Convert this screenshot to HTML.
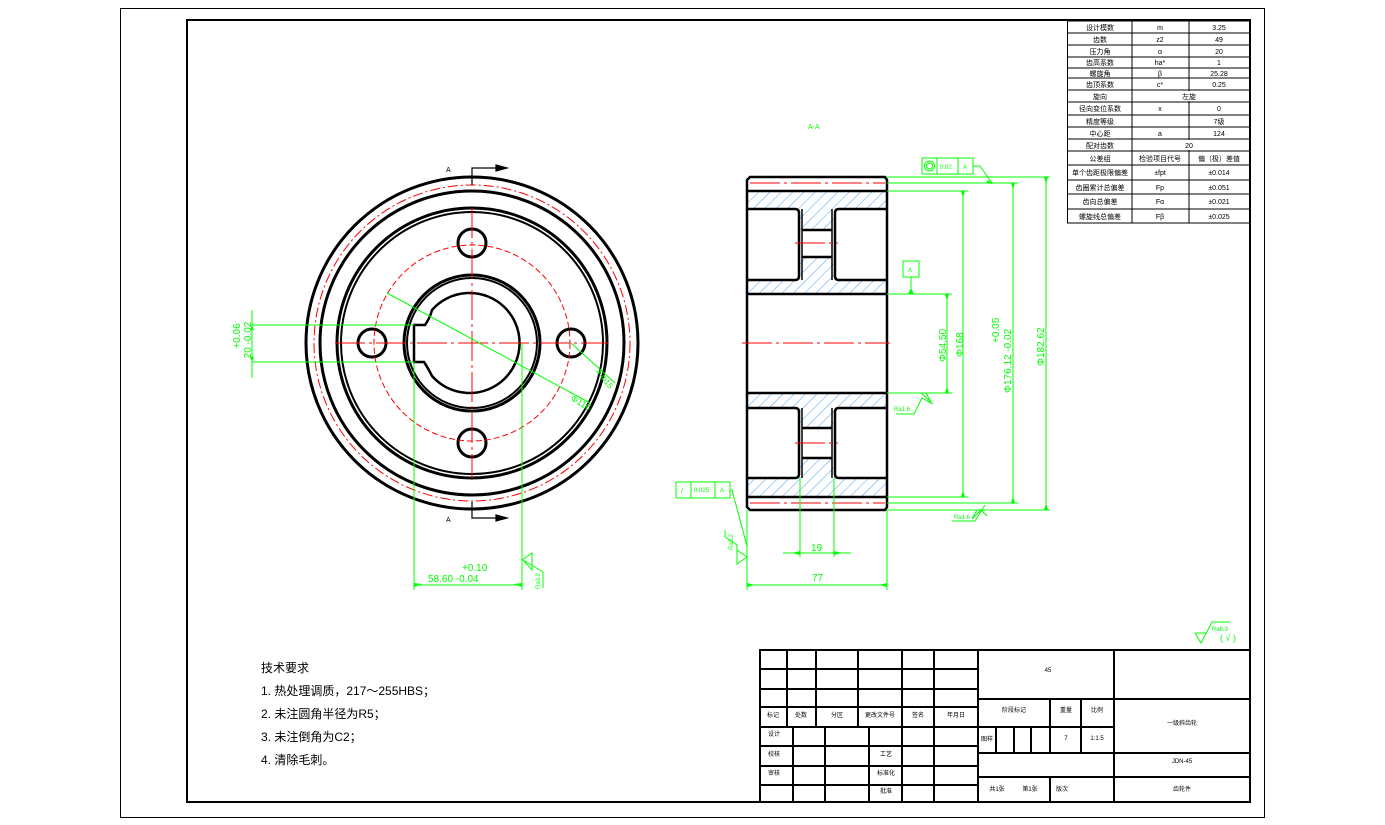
<!DOCTYPE html>
<html><head><meta charset="utf-8"><style>
html,body{margin:0;padding:0;background:#fff;}
svg{display:block;}
text{font-family:"Liberation Sans","Noto Sans CJK SC",sans-serif;}
</style></head><body>
<svg width="1385" height="825" viewBox="0 0 1385 825" xmlns="http://www.w3.org/2000/svg">
<defs>
<pattern id="h" width="8" height="8" patternUnits="userSpaceOnUse" patternTransform="rotate(45)">
<line x1="0" y1="0" x2="0" y2="8" stroke="#1a8cff" stroke-width="0.8"/>
</pattern>
</defs>
<rect x="120.5" y="8.5" width="1144" height="809" fill="none" stroke="#000" stroke-width="1"/>
<rect x="187" y="20" width="1063" height="782" fill="none" stroke="#000" stroke-width="2"/>

<!-- LEFT VIEW -->
<g fill="none" stroke="#000" stroke-width="3">
<circle cx="472" cy="343" r="166"/>
<circle cx="472" cy="343" r="152"/>
<circle cx="472" cy="343" r="135"/>
<circle cx="472" cy="343" r="131" stroke-width="2"/>
<circle cx="472" cy="343" r="68"/>
<circle cx="472" cy="343" r="65" stroke-width="2"/>
<path d="M 414 325 L 425 325 Q 430 318 432 310 A 50 50 0 1 1 432 376 Q 428 368 424 362 L 414 362 Z" stroke-width="2.5"/>
<circle cx="472" cy="243" r="14"/>
<circle cx="472" cy="443" r="14"/>
<circle cx="372" cy="343" r="14"/>
<circle cx="571" cy="343" r="14"/>
</g>
<g fill="none" stroke="#f00" stroke-width="1">
<circle cx="472" cy="343" r="158" stroke-dasharray="10 3 2 3"/>
<circle cx="472" cy="343" r="98" stroke-dasharray="6 3"/>
<line x1="335" y1="343" x2="608" y2="343" stroke-dasharray="30 4 3 4"/>
<line x1="472" y1="208" x2="472" y2="478" stroke-dasharray="30 4 3 4"/>
</g>
<g stroke="#000" stroke-width="1.2" fill="#000">
<polyline points="472,185 472,168 500,168" fill="none"/>
<polygon points="496,165 507,168 496,171"/>
<polyline points="472,502 472,518 500,518" fill="none"/>
<polygon points="496,515 507,518 496,521"/>
</g>
<text x="446" y="172" font-size="7">A</text>
<text x="446" y="522" font-size="7">A</text>

<g stroke="#0f0" stroke-width="1" fill="none">
<line x1="252" y1="310" x2="252" y2="378"/>
<line x1="252" y1="325" x2="414" y2="325"/>
<line x1="252" y1="362" x2="414" y2="362"/>
<line x1="414" y1="362" x2="414" y2="590"/>
<line x1="522" y1="343" x2="522" y2="590"/>
<line x1="414" y1="585" x2="522" y2="585"/>
<line x1="387" y1="293" x2="590" y2="403"/>
<line x1="571" y1="343" x2="615" y2="383"/>
<polyline points="522,560 532,553 532,570 523,560 543,572 543,588"/>
</g>
<g fill="#0f0">
<polygon points="250,330 254,330 252,325"/>
<polygon points="250,357 254,357 252,362"/>
<polygon points="414,583 422,584 414,587"/>
<polygon points="522,583 514,584 522,587"/>
</g>
<g fill="#0f0" font-size="10">
<text x="428" y="582">58.60 -0.04</text>
<text x="462" y="571">+0.10</text>
<text transform="translate(240,336) rotate(-90)" text-anchor="middle">+0.06</text>
<text transform="translate(251,340) rotate(-90)" text-anchor="middle">20 -0.02</text>
<text transform="translate(570,400) rotate(30)" font-size="9">Φ116</text>
<text transform="translate(595,372) rotate(50)" font-size="8">4-Φ15</text>
<text transform="translate(540,589) rotate(-90)" font-size="6">Ra3.2</text>
</g>

<!-- RIGHT SECTION VIEW -->
<g fill="url(#h)" stroke="none">
<rect x="748" y="191" width="139" height="18"/>
<rect x="798" y="209" width="38" height="21"/>
<rect x="798" y="257" width="38" height="23"/>
<rect x="748" y="280" width="139" height="14"/>
<rect x="748" y="393" width="139" height="15"/>
<rect x="798" y="408" width="38" height="20"/>
<rect x="798" y="458" width="38" height="20"/>
<rect x="748" y="478" width="139" height="19"/>
</g>
<g fill="none" stroke="#000" stroke-width="2.5">
<path d="M 750 177 L 885 177 L 887 180 L 887 507 L 885 510 L 750 510 L 747 507 L 747 180 Z"/>
<line x1="747" y1="191" x2="887" y2="191"/>
<line x1="747" y1="497" x2="887" y2="497"/>
<line x1="747" y1="294" x2="887" y2="294"/>
<line x1="747" y1="393" x2="887" y2="393"/>
<path d="M 747 209 L 795 209 Q 799 209 799 213 L 799 276 Q 799 280 795 280 L 747 280"/>
<path d="M 887 209 L 839 209 Q 835 209 835 213 L 835 276 Q 835 280 839 280 L 887 280"/>
<path d="M 747 408 L 795 408 Q 799 408 799 412 L 799 474 Q 799 478 795 478 L 747 478"/>
<path d="M 887 408 L 839 408 Q 835 408 835 412 L 835 474 Q 835 478 839 478 L 887 478"/>
<line x1="802" y1="209" x2="802" y2="280" stroke-width="1.5"/>
<line x1="832" y1="209" x2="832" y2="280" stroke-width="1.5"/>
<line x1="802" y1="408" x2="802" y2="478" stroke-width="1.5"/>
<line x1="832" y1="408" x2="832" y2="478" stroke-width="1.5"/>
<line x1="802" y1="230" x2="832" y2="230"/>
<line x1="802" y1="257" x2="832" y2="257"/>
<line x1="802" y1="428" x2="832" y2="428"/>
<line x1="802" y1="458" x2="832" y2="458"/>
</g>
<g stroke="#f00" stroke-width="1" stroke-dasharray="30 4 3 4">
<line x1="750" y1="183" x2="885" y2="183"/>
<line x1="750" y1="503" x2="885" y2="503"/>
<line x1="742" y1="343" x2="890" y2="343"/>
<line x1="795" y1="243" x2="838" y2="243"/>
<line x1="795" y1="443" x2="838" y2="443"/>
</g>
<text x="808" y="129" font-size="7" fill="#0f0">A-A</text>

<g stroke="#0f0" stroke-width="1" fill="none">
<line x1="887" y1="177" x2="1050" y2="177"/>
<line x1="887" y1="510" x2="1050" y2="510"/>
<line x1="887" y1="183" x2="1018" y2="183"/>
<line x1="887" y1="503" x2="1018" y2="503"/>
<line x1="887" y1="191" x2="968" y2="191"/>
<line x1="887" y1="497" x2="968" y2="497"/>
<line x1="887" y1="294" x2="952" y2="294"/>
<line x1="887" y1="393" x2="952" y2="393"/>
<line x1="1046" y1="177" x2="1046" y2="510"/>
<line x1="1013" y1="183" x2="1013" y2="503"/>
<line x1="963" y1="191" x2="963" y2="497"/>
<line x1="947" y1="294" x2="947" y2="393"/>
<rect x="903" y="261" width="16" height="16"/>
<line x1="911" y1="277" x2="911" y2="294"/>
<rect x="922" y="158" width="51" height="16"/>
<line x1="937" y1="158" x2="937" y2="174"/>
<line x1="958" y1="158" x2="958" y2="174"/>
<circle cx="929.5" cy="166" r="5"/><circle cx="929.5" cy="166" r="3"/>
<polyline points="973,166 980,166 992,183"/>
<rect x="676" y="482" width="54" height="16"/>
<line x1="691" y1="482" x2="691" y2="498"/>
<line x1="715" y1="482" x2="715" y2="498"/>
<polyline points="730,490 732,490 747,546"/>
<line x1="747" y1="510" x2="747" y2="590"/>
<line x1="887" y1="510" x2="887" y2="590"/>
<line x1="747" y1="585" x2="887" y2="585"/>
<line x1="800" y1="478" x2="800" y2="557"/>
<line x1="834" y1="478" x2="834" y2="557"/>
<line x1="783" y1="553" x2="851" y2="553"/>
<polyline points="937,393 926,393 931,402 921,393"/>
<polyline points="896,414 914,414 922,398 933,404"/>
<polyline points="977,510 972,519 981,510 987,516"/>
<polyline points="952,521 975,521 985,505"/>
<polyline points="747,557 737,564 737,545 725,537 725,530"/>
<polyline points="747,557 737,550"/>
</g>
<g fill="#0f0">
<polygon points="1044,177 1048,177 1046,184"/><polygon points="1044,510 1048,510 1046,503"/>
<polygon points="1011,183 1015,183 1013,190"/><polygon points="1011,503 1015,503 1013,496"/>
<polygon points="961,191 965,191 963,198"/><polygon points="961,497 965,497 963,490"/>
<polygon points="945,294 949,294 947,301"/><polygon points="945,393 949,393 947,386"/>
<polygon points="908,294 914,294 911,288"/>
<polygon points="747,583 755,585 747,587"/><polygon points="887,583 879,585 887,587"/>
<polygon points="800,551 792,553 800,555"/><polygon points="834,551 842,553 834,555"/>
<polygon points="988,180 993,184 986,183"/>
</g>
<g fill="#0f0" font-size="10">
<text x="812" y="581">77</text>
<text x="811" y="551">19</text>
<text transform="translate(946,362) rotate(-90)">Φ54.50</text>
<text transform="translate(963,357) rotate(-90)">Φ168</text>
<text transform="translate(1011,393) rotate(-90)">Φ176.12 -0.02</text>
<text transform="translate(999,343) rotate(-90)">+0.05</text>
<text transform="translate(1044,366) rotate(-90)">Φ182.62</text>
<text x="908" y="272" font-size="6">A</text>
<text x="940" y="169" font-size="6">0.02</text>
<text x="963" y="169" font-size="6">A</text>
<text x="681" y="493" font-size="7">/</text>
<text x="694" y="492" font-size="6">0.025</text>
<text x="720" y="492" font-size="6">A</text>
<text x="894" y="411" font-size="6">Ra1.6</text>
<text x="954" y="519" font-size="6">Ra1.6</text>
<text transform="translate(733,550) rotate(-90)" font-size="6">Ra3.2</text>
</g>

<!-- TABLE -->
<g stroke="#000" stroke-width="1" fill="none">
<rect x="1067.5" y="21" width="182" height="202"/>
<line x1="1132" y1="21" x2="1132" y2="223"/>
<line x1="1189" y1="21" x2="1189" y2="223"/>
<path d="M1067 33H1250M1067 45H1250M1067 57H1250M1067 68H1250M1067 78H1250M1067 90H1250M1067 102H1250M1067 115H1250M1067 127H1250M1067 139H1250M1067 151H1250M1067 165H1250M1067 180H1250M1067 194H1250M1067 209H1250"/>
</g>
<rect x="1133" y="91" width="112" height="10" fill="#fff"/>
<rect x="1133" y="140" width="112" height="10" fill="#fff"/>
<g font-size="7" text-anchor="middle" fill="#000">
<text x="1100" y="30">设计模数</text><text x="1160" y="30">m</text><text x="1219" y="30">3.25</text>
<text x="1100" y="42">齿数</text><text x="1160" y="42">z2</text><text x="1219" y="42">49</text>
<text x="1100" y="54">压力角</text><text x="1160" y="54">α</text><text x="1219" y="54">20</text>
<text x="1100" y="65">齿高系数</text><text x="1160" y="65">ha*</text><text x="1219" y="65">1</text>
<text x="1100" y="76">螺旋角</text><text x="1160" y="76">β</text><text x="1219" y="76">25.28</text>
<text x="1100" y="87">齿顶系数</text><text x="1160" y="87">c*</text><text x="1219" y="87">0.25</text>
<text x="1100" y="99">旋向</text><text x="1189" y="99">左旋</text>
<text x="1100" y="111">径向变位系数</text><text x="1160" y="111">x</text><text x="1219" y="111">0</text>
<text x="1100" y="124">精度等级</text><text x="1219" y="124">7级</text>
<text x="1100" y="136">中心距</text><text x="1160" y="136">a</text><text x="1219" y="136">124</text>
<text x="1100" y="148">配对齿数</text><text x="1189" y="148">20</text>
<text x="1100" y="161">公差组</text><text x="1160" y="161">检验项目代号</text><text x="1219" y="161">偏（极）差值</text>
<text x="1100" y="175">单个齿距极限偏差</text><text x="1160" y="175">±fpt</text><text x="1219" y="175">±0.014</text>
<text x="1100" y="190">齿圈累计总偏差</text><text x="1160" y="190">Fp</text><text x="1219" y="190">±0.051</text>
<text x="1100" y="204">齿向总偏差</text><text x="1160" y="204">Fα</text><text x="1219" y="204">±0.021</text>
<text x="1100" y="219">螺旋线总偏差</text><text x="1160" y="219">Fβ</text><text x="1219" y="219">±0.025</text>
</g>

<g stroke="#0f0" fill="none" stroke-width="1">
<polyline points="1195,633 1201,643 1212,622 1230,622"/>
<line x1="1195" y1="633" x2="1207" y2="633"/>
</g>
<text x="1212" y="631" font-size="6" fill="#0f0">Ra6.3</text>
<text x="1220" y="641" font-size="9" fill="#0f0">( √ )</text>

<g font-size="12" fill="#000">
<text x="261" y="672">技术要求</text>
<text x="261" y="695">1. 热处理调质，217～255HBS；</text>
<text x="261" y="718">2. 未注圆角半径为R5；</text>
<text x="261" y="741">3. 未注倒角为C2；</text>
<text x="261" y="764">4. 清除毛刺。</text>
</g>

<g stroke="#000" stroke-width="2" fill="none">
<rect x="760" y="650" width="490" height="152"/>
<line x1="978" y1="650" x2="978" y2="802"/>
<line x1="1114" y1="650" x2="1114" y2="802"/>
<path d="M760 669H978M760 689H978M760 707H978M760 727H978M760 746H978M760 766H978M760 785H978"/>
<path d="M787 650V727M816 650V727M858 650V727M902 650V802M934 650V802"/>
<path d="M793 727V802M825 727V802M869 727V802"/>
<path d="M978 699H1250M978 727H1114M978 753H1250M978 777H1250"/>
<path d="M1050 699V753M1081 699V753M996 727V753M1014 727V753M1031 727V753M1050 777V802"/>
</g>
<g font-size="6" fill="#000" text-anchor="middle">
<text x="773" y="717">标记</text><text x="801" y="717">处数</text><text x="837" y="717">分区</text><text x="880" y="717">更改文件号</text><text x="918" y="717">签名</text><text x="956" y="717">年月日</text>
<text x="774" y="736">设计</text><text x="774" y="756">校核</text><text x="774" y="775">审核</text>
<text x="886" y="756">工艺</text><text x="886" y="775">标准化</text><text x="886" y="793">批准</text>
<text x="1048" y="672">45</text>
<text x="1014" y="712">阶段标记</text><text x="1066" y="712">重量</text><text x="1097" y="712">比例</text>
<text x="987" y="741">图样</text><text x="1066" y="740">7</text><text x="1097" y="740">1:1.5</text>
<text x="997" y="791">共1张</text><text x="1030" y="791">第1张</text><text x="1062" y="791">版次</text>
<text x="1182" y="725">一级斜齿轮</text><text x="1182" y="763">JDN-45</text><text x="1182" y="791">齿轮件</text>
</g>
</svg>
</body></html>
